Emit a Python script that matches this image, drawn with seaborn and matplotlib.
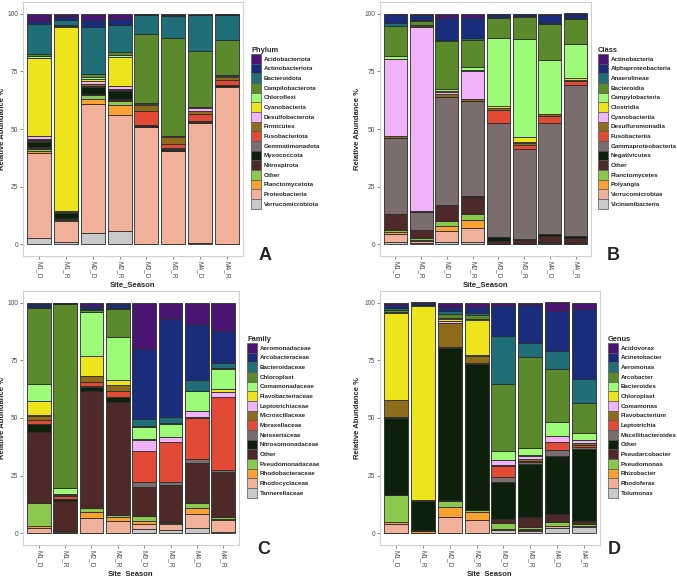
import matplotlib
matplotlib.use("Agg")
import matplotlib.pyplot as plt
from matplotlib.patches import Patch
import numpy as np
import pandas as pd
import seaborn as sns

samples = ["M1_D", "M1_R", "M2_D", "M2_R", "M3_D", "M3_R", "M4_D", "M4_R"]

palette16 = ["#4A1472", "#1A2C7C", "#1F6E78", "#5B8A2C", "#9DFB78", "#EEE41C",
             "#F1B2F9", "#8E6C1C", "#E34A35", "#7B6D6D", "#0C200C", "#4F2828",
             "#8AC94E", "#F9A232", "#F1B09A", "#C9C9C9"]

# taxa in legend order (top of stack first)
phylum_taxa = ["Acidobacteriota", "Actinobacteriota", "Bacteroidota", "Campilobacterota",
               "Chloroflexi", "Cyanobacteria", "Desulfobacterota", "Firmicutes",
               "Fusobacteriota", "Gemmatimonadota", "Myxococcota", "Nitrospirota",
               "Other", "Planctomycetota", "Proteobacteria", "Verrucomicrobiota"]
class_taxa = ["Actinobacteria", "Alphaproteobacteria", "Anaerolineae", "Bacteroidia",
              "Campylobacteria", "Clostridia", "Cyanobacteriia", "Desulfuromonadia",
              "Fusobacteriia", "Gammaproteobacteria", "Negativicutes", "Other",
              "Planctomycetes", "Polyangia", "Verrucomicrobiae", "Vicinamibacteria"]
family_taxa = ["Aeromonadaceae", "Arcobacteraceae", "Bacteroidaceae", "Chloroplast",
               "Comamonadaceae", "Flavobacteriaceae", "Leptotrichiaceae", "Microscillaceae",
               "Moraxellaceae", "Neisseriaceae", "Nitrosomonadaceae", "Other",
               "Pseudomonadaceae", "Rhodobacteraceae", "Rhodocyclaceae", "Tannerellaceae"]
genus_taxa = ["Acidovorax", "Acinetobacter", "Aeromonas", "Arcobacter", "Bacteroides",
              "Chloroplast", "Comamonas", "Flavobacterium", "Leptotrichia",
              "Macellibacteroides", "Other", "Pseudarcobacter", "Pseudomonas",
              "Rhizobacter", "Rhodoferax", "Tolumonas"]

# relative abundance per sample, listed from the bottom of the stack upward
phylum_values = [
    [3, 36.5, 1, 1, 0.5, 2.5, 0.3, 0.5, 0.3, 1.5, 33.5, 1.2, 0.8, 13, 1.2, 3.2],
    [1, 9, 0.8, 0.4, 0.3, 2, 0.1, 0.1, 0.3, 0.6, 79.5, 0.3, 0.6, 2, 1.5, 1.5],
    [5, 56, 2.2, 1.5, 0.5, 3, 0.3, 0.3, 0.5, 1.5, 1, 0.7, 1.5, 20, 3.3, 2.7],
    [6, 50, 4.5, 1.5, 0.8, 3.5, 0.7, 0.2, 0.3, 1, 12.5, 1, 1.5, 11.5, 2.5, 2.5],
    [0.3, 50.5, 0.1, 0.1, 0.1, 0.5, 0.1, 6, 2.5, 0.8, 0.1, 0.1, 30, 8.3, 0.3, 0.2],
    [0.3, 40, 0.1, 0.1, 0.2, 0.8, 0.1, 2, 3, 0.2, 0.1, 0.1, 42.5, 9.5, 0.5, 0.5],
    [0.5, 52, 0.1, 0.6, 0.1, 0.2, 0.1, 2.7, 1.5, 1.5, 0.1, 0.1, 24.2, 15.5, 0.3, 0.5],
    [0.3, 67.7, 0.1, 0.6, 0.1, 0.2, 0.1, 2, 1.5, 0.4, 0.1, 0.1, 15.5, 10.5, 0.4, 0.4],
]
class_values = [
    [1.2, 3.3, 1, 0.8, 6.7, 0.2, 32.8, 0.1, 1, 33, 0.1, 1.4, 12.9, 1.3, 3.8, 0.4],
    [0.8, 0.7, 0.5, 1, 3.2, 0.1, 7.8, 0.1, 0.1, 80, 0.1, 0.5, 1.8, 0.5, 2, 0.8],
    [1.2, 4.8, 2.2, 2, 6.8, 0.3, 46.5, 0.2, 1, 1, 0.3, 1.2, 20.5, 0.5, 9.5, 2],
    [1.2, 6, 3.4, 2.4, 7.5, 0.3, 41.2, 0.2, 0.8, 12.2, 0.3, 1.5, 11.5, 0.7, 8.8, 2],
    [0.1, 0.1, 0.1, 0.1, 1, 2, 49.1, 5.8, 0.6, 0.1, 0.8, 29.7, 8.7, 0.3, 1.2, 0.3],
    [0.1, 0.1, 0.1, 0.1, 1.5, 0.5, 39, 1.8, 0.8, 0.2, 2.2, 42.6, 9.5, 0.3, 1, 0.2],
    [0.3, 0.3, 0.1, 0.2, 2.7, 1.1, 47.7, 3.2, 0.7, 0.1, 0.1, 23.5, 15.4, 0.3, 3.8, 0.5],
    [0.2, 0.2, 0.1, 0.1, 2.4, 0.8, 65.2, 1.8, 0.4, 0.2, 0.8, 14.4, 11.2, 0.3, 1.8, 0.4],
]
family_values = [
    [0.2, 2.2, 0.9, 10.1, 30.7, 3.3, 0.2, 1.4, 2, 0.1, 6.1, 7.6, 33, 0.4, 1, 0.8],
    [0.1, 0.3, 0.2, 0.4, 13, 1, 0.1, 1, 0.5, 0.2, 0.2, 2.5, 79.7, 0.1, 0.4, 0.3],
    [0.3, 6.2, 3, 1.5, 50.5, 2, 0.2, 2, 2.3, 0.3, 8.5, 19.2, 0.8, 0.5, 1.2, 1.5],
    [0.3, 5, 2, 0.8, 49, 2, 0.2, 2.5, 2.4, 0.3, 2, 18.5, 12.3, 0.5, 1.4, 0.8],
    [2, 2.2, 1, 2.3, 12.5, 0.2, 2, 13.3, 0.3, 4.7, 0.2, 5.5, 0.2, 3.3, 30, 20.3],
    [1.5, 2.5, 0.5, 0.5, 16, 0.2, 1.3, 17, 0.3, 1.8, 0.2, 5.6, 0.3, 2.8, 42.5, 7],
    [2.3, 6.3, 2.6, 2.1, 17.2, 0.2, 1.4, 18, 0.3, 2.6, 0.2, 8.5, 0.2, 4.5, 24.4, 9.2],
    [0.7, 5.2, 0.2, 1.2, 19.2, 0.2, 0.7, 31.7, 0.2, 1.9, 1.5, 8.6, 0.3, 2.2, 13.8, 12.4],
]
genus_values = [
    [0.2, 3.8, 1, 11.6, 0.2, 33.3, 0.2, 0.2, 7.1, 0.2, 37.7, 0.3, 0.8, 1, 1.3, 1.1],
    [0.1, 0.3, 0.6, 0.2, 0.3, 12.5, 0.1, 0.1, 0.1, 0.1, 84.3, 0.1, 0.1, 0.1, 0.9, 0.2],
    [0.3, 7, 4.2, 2.7, 0.3, 65.9, 0.2, 0.2, 10.5, 0.7, 1, 0.5, 1.5, 1.5, 1.5, 2],
    [0.3, 5.7, 3.3, 0.7, 0.2, 63.3, 0.2, 0.2, 2.8, 0.5, 15.3, 0.5, 1.5, 1, 2.5, 2],
    [1.3, 0.3, 0.3, 2.5, 1.8, 16.3, 1.8, 5, 0.3, 2, 0.3, 3.6, 29.2, 20.6, 13, 1.7],
    [1.1, 0.4, 0.4, 0.8, 4.3, 23, 1, 0.5, 0.8, 1.2, 0.3, 3, 39.7, 5.8, 16.5, 1.2],
    [2.3, 0.9, 0.2, 1.4, 3.6, 25.2, 2.6, 3.3, 0.2, 2.5, 0.2, 5.8, 22.9, 8.1, 17.3, 3.7],
    [2.9, 0.2, 0.2, 0.9, 1, 31.3, 0.8, 1, 0.8, 1.2, 0.3, 3.1, 12.9, 10.5, 30.3, 2.6],
]

sns.set_style("white")
plt.rcParams["font.family"] = ["Liberation Sans", "DejaVu Sans"]

W, H = 677, 576
fig = plt.figure(figsize=(W / 100, H / 100), dpi=100)

# (rank, taxa, values, axes left/top/right/bottom in px, ylabel x px, legend px, letter px, letter)
panels = [
    ("Phylum", phylum_taxa, phylum_values, (23, 2, 243, 256), 6, (251, 47), (265, 256), "A"),
    ("Class", class_taxa, class_values, (380, 2, 591, 256), 361, (598, 47), (613, 256), "B"),
    ("Family", family_taxa, family_values, (23, 291, 239, 545), 6, (247, 336), (264, 549), "C"),
    ("Genus", genus_taxa, genus_values, (380, 291, 600, 545), 361, (608, 336), (614, 549), "D"),
]

for rank, taxa, values, box, ylab_x, leg_px, let_px, letter in panels:
    rows = []
    for s, vals in zip(samples, values):
        for t, v in zip(taxa, vals[::-1]):
            rows.append({"Site_Season": s, "taxon": t, "abundance": v})
    df = pd.DataFrame(rows)

    l, t, r, b = box
    ax = fig.add_axes([l / W, 1 - b / H, (r - l) / W, (b - t) / H])
    sns.histplot(data=df, x="Site_Season", hue="taxon", weights="abundance",
                 hue_order=taxa, palette=palette16, multiple="stack",
                 discrete=True, shrink=0.9, edgecolor="#2b2b2b", linewidth=0.6,
                 alpha=1, legend=False, ax=ax)

    ax.set_xlim(-0.6, 7.6)
    ax.set_ylim(-5, 105)
    ax.set_yticks([0, 25, 50, 75, 100])
    ax.set_yticklabels(["0", "25", "50", "75", "100"])
    ax.set_xticks(range(len(samples)))
    ax.set_xticklabels(samples, rotation=270)
    ax.tick_params(axis="both", labelsize=4.8, labelcolor="#4D4D4D", length=2,
                   width=0.5, color="#555555", pad=1.5, left=True, bottom=True)
    ax.set_xlabel("Site_Season", fontsize=5.5, fontweight="bold", labelpad=2)
    ax.set_ylabel("Relative Abundance %", fontsize=5.5, fontweight="bold")
    ax.yaxis.set_label_coords((ylab_x - l) / (r - l), 0.5)
    for sp in ax.spines.values():
        sp.set_color("#D0D0D0")
        sp.set_linewidth(0.8)
    ax.grid(False)

    handles = [Patch(facecolor=c, edgecolor="#555555", linewidth=0.5) for c in palette16]
    fig.legend(handles, taxa, loc="upper left",
               bbox_to_anchor=(leg_px[0] / W, 1 - leg_px[1] / H),
               frameon=False, title=rank, alignment="left",
               title_fontproperties={"weight": "bold", "size": 5.4},
               prop={"weight": "bold", "size": 4.5},
               handlelength=1.55, handleheight=2.0, labelspacing=0,
               handletextpad=0.5, borderpad=0, borderaxespad=0)

    fig.text(let_px[0] / W, 1 - let_px[1] / H, letter, fontsize=13,
             fontweight="bold", ha="center", va="center")

fig.savefig("out.png", dpi=100)
